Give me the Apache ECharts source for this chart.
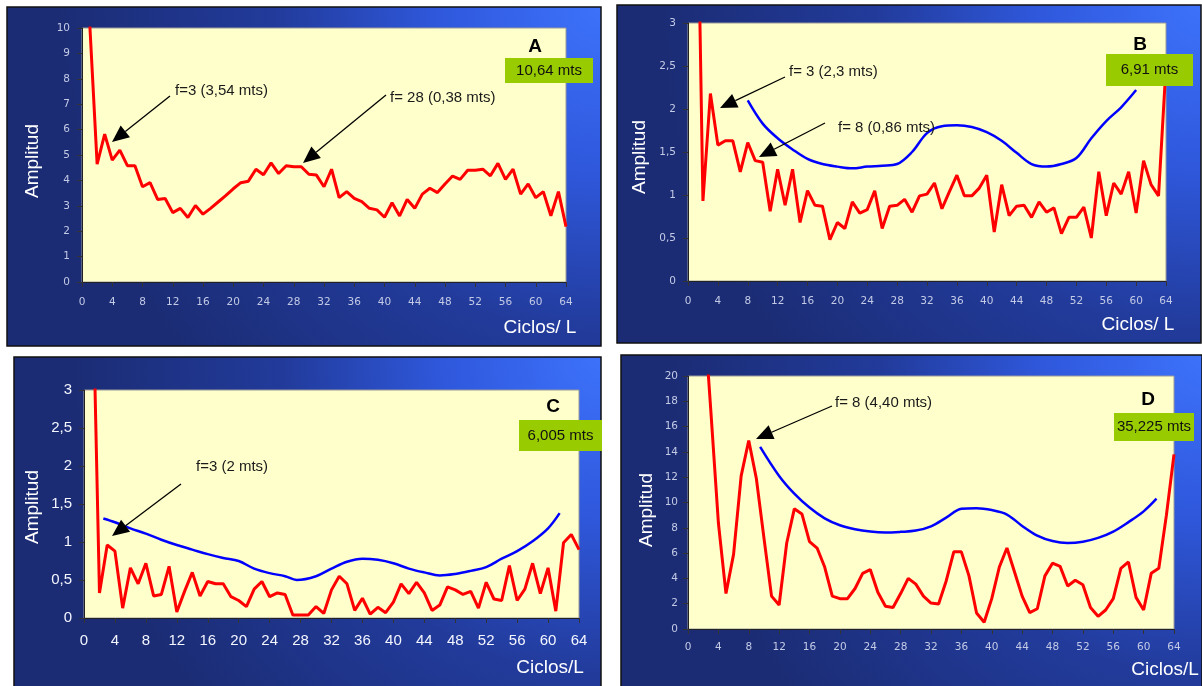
<!DOCTYPE html>
<html>
<head>
<meta charset="utf-8">
<script src="https://cdn.jsdelivr.net/npm/echarts/dist/echarts.min.js"></script>
<style>
html, body { margin: 0; padding: 0; background: #fff; }
#chart { width: 1202px; height: 686px; }
</style>
</head>
<body>
<div id="chart"></div>
<script>
// ciclos / L (eje x)
var ciclos = [1,2,3,4,5,6,7,8,9,10,11,12,13,14,15,16,17,18,19,20,21,22,23,24,25,26,27,28,29,30,31,32,
  33,34,35,36,37,38,39,40,41,42,43,44,45,46,47,48,49,50,51,52,53,54,55,56,57,58,59,60,61,62,63,64];

// espectros (rojo)
var redA = [10.3,4.64,5.82,4.80,5.19,4.58,4.58,3.75,3.91,3.25,3.29,2.73,2.90,2.54,3.01,2.67,
  2.90,3.15,3.40,3.67,3.91,3.97,4.44,4.22,4.69,4.27,4.58,4.54,4.54,4.24,4.21,3.75,
  4.44,3.32,3.56,3.29,3.16,2.90,2.84,2.55,3.12,2.60,3.25,2.90,3.46,3.69,3.52,3.86,
  4.17,4.04,4.40,4.40,4.44,4.18,4.67,4.04,4.44,3.46,3.86,3.32,3.56,2.61,3.56,2.18];
var redB = [6.1,0.93,2.18,1.58,1.63,1.63,1.27,1.61,1.40,1.38,0.81,1.30,0.88,1.30,0.68,1.05,
  0.88,0.87,0.48,0.68,0.61,0.92,0.79,0.83,1.05,0.61,0.87,0.88,0.95,0.80,0.99,1.01,
  1.14,0.84,1.04,1.23,0.99,0.99,1.08,1.23,0.57,1.12,0.76,0.87,0.88,0.74,0.92,0.80,
  0.85,0.55,0.74,0.74,0.86,0.50,1.27,0.76,1.14,1.01,1.27,0.79,1.40,1.12,0.99,2.5];
var redC = [5.0,0.33,0.96,0.88,0.13,0.66,0.45,0.72,0.29,0.31,0.68,0.08,0.35,0.60,0.29,0.48,
  0.45,0.45,0.28,0.23,0.15,0.38,0.48,0.28,0.33,0.31,0.04,0.04,0.04,0.15,0.06,0.37,
  0.55,0.45,0.10,0.26,0.05,0.14,0.07,0.21,0.45,0.32,0.47,0.33,0.10,0.17,0.41,0.37,
  0.31,0.35,0.13,0.47,0.25,0.23,0.69,0.23,0.38,0.72,0.32,0.66,0.09,0.99,1.10,0.90];
var redD = [35,26,17.3,8.4,2.8,5.9,12.1,14.9,11.9,7.2,2.6,1.9,6.8,9.5,9.1,6.9,
  6.4,4.9,2.6,2.4,2.4,3.2,4.4,4.7,2.9,1.8,1.7,2.8,4.0,3.55,2.6,2.05,
  1.97,3.8,6.1,6.1,4.2,1.26,0.53,2.4,4.9,6.4,4.5,2.6,1.3,1.6,4.2,5.2,
  4.95,3.4,3.85,3.5,1.7,1.0,1.5,2.4,4.8,5.3,2.5,1.5,4.4,4.8,9.0,13.8];

// curvas azules
var blueBx = [8,10,12,14,16,18,20,22,24,26,28,30,32,34,36,38,40,42,44,46,48,50,52,54,56,58,60];
var blueBy = [2.10,1.83,1.66,1.53,1.42,1.36,1.33,1.31,1.33,1.34,1.36,1.50,1.72,1.80,1.81,1.79,
  1.73,1.63,1.49,1.36,1.33,1.36,1.43,1.66,1.86,2.02,2.22];
var blueCx = [2.5,4,6,8,10,12,14,16,18,20,22,24,26,27.5,30,32,34,36,38,40,42,44,46,48,50,52,54,56,58,60,61.5];
var blueCy = [1.31,1.26,1.18,1.11,1.03,0.96,0.90,0.84,0.79,0.75,0.65,0.59,0.55,0.50,0.55,0.65,0.74,0.78,
  0.765,0.72,0.65,0.60,0.56,0.58,0.62,0.67,0.78,0.88,1.01,1.18,1.38];
var blueDx = [9.5,12,14,16,18,20,22,24,26,28,30,32,34,36,38,40,42,44,46,48,50,52,54,56,58,60,61.7];
var blueDy = [14.4,12.1,10.7,9.6,8.75,8.2,7.88,7.7,7.63,7.68,7.78,8.12,8.8,9.5,9.55,9.4,9.05,8.15,
  7.38,6.95,6.8,6.9,7.2,7.7,8.45,9.3,10.3];

var chart = echarts.init(document.getElementById('chart'));

function pares(xs, ys) {
  return xs.map(function (x, i) { return [x, ys[i]]; });
}

var panels = [
  { rect: [7, 7, 594, 339], grid: [82, 28, 484, 254], ymax: 10, yint: 1, big: false,
    red: redA, bx: null, by: null, xm: 15, ym: 12,
    letter: 'A', lpos: [535, 47], box: [505, 58, 88, 25], boxText: '10,64 mts',
    amp: [33, 161], cic: [540, 328], cicText: 'Ciclos/ L',
    notes: [
      { t: 'f=3 (3,54 mts)', x: 175, y: 91, a: [170, 96, 112, 142] },
      { t: 'f= 28 (0,38 mts)', x: 390, y: 98, a: [386, 95, 303, 163] }
    ] },
  { rect: [617, 5, 584, 338], grid: [688, 23, 478, 258], ymax: 3, yint: 0.5, big: false,
    red: redB, bx: blueBx, by: blueBy, xm: 15, ym: 12,
    letter: 'B', lpos: [1140, 45], box: [1106, 54, 87, 32], boxText: '6,91 mts',
    amp: [640, 157], cic: [1138, 325], cicText: 'Ciclos/ L',
    notes: [
      { t: 'f= 3 (2,3 mts)', x: 789, y: 72, a: [785, 77, 720, 108] },
      { t: 'f= 8 (0,86 mts)', x: 838, y: 128, a: [825, 123, 759, 157] }
    ] },
  { rect: [14, 357, 587, 330], grid: [84, 390, 495, 228], ymax: 3, yint: 0.5, big: true,
    red: redC, bx: blueCx, by: blueCy, xm: 15, ym: 12,
    letter: 'C', lpos: [553, 407], box: [519, 420, 83, 31], boxText: '6,005 mts',
    amp: [33, 507], cic: [550, 668], cicText: 'Ciclos/L',
    notes: [
      { t: 'f=3 (2 mts)', x: 196, y: 467, a: [181, 484, 112, 536] }
    ] },
  { rect: [621, 355, 581, 332], grid: [688, 376, 486, 253], ymax: 20, yint: 2, big: false,
    red: redD, bx: blueDx, by: blueDy, xm: 13, ym: 10,
    letter: 'D', lpos: [1148, 400], box: [1114, 413, 80, 28], boxText: '35,225 mts',
    amp: [647, 510], cic: [1165, 670], cicText: 'Ciclos/L',
    notes: [
      { t: 'f= 8 (4,40 mts)', x: 835, y: 403, a: [832, 406, 756, 439] }
    ] }
];

var grids = [], xAxes = [], yAxes = [], series = [], graphics = [];

function coma(v) { return String(v).replace('.', ','); }

function flecha(x1, y1, x2, y2) {
  var dx = x2 - x1, dy = y2 - y1, len = Math.sqrt(dx * dx + dy * dy);
  var ux = dx / len, uy = dy / len, hl = 17, hw = 7.5;
  var bx = x2 - ux * hl, by = y2 - uy * hl;
  return [
    { type: 'line', z: 60, shape: { x1: x1, y1: y1, x2: bx, y2: by },
      style: { stroke: '#000', lineWidth: 1.3 } },
    { type: 'polygon', z: 60,
      shape: { points: [[x2, y2], [bx - uy * hw, by + ux * hw], [bx + uy * hw, by - ux * hw]] },
      style: { fill: '#000' } }
  ];
}

panels.forEach(function (p, i) {
  var lab = p.big
    ? { fontSize: 15, color: '#f4f6ff', fontFamily: 'Liberation Sans' }
    : { fontSize: 10.5, color: '#c3cae6', fontFamily: 'DejaVu Sans' };

  grids.push({ left: p.grid[0], top: p.grid[1], width: p.grid[2], height: p.grid[3],
    show: true, backgroundColor: '#FFFFCC', borderColor: '#9a9a9a', borderWidth: 1 });

  xAxes.push({ type: 'value', gridIndex: i, min: 0, max: 64, interval: 4,
    axisLine: { show: true, onZero: false, lineStyle: { color: '#222', width: 1 } },
    axisTick: { show: true, length: 5, lineStyle: { color: '#333' } },
    axisLabel: Object.assign({ margin: p.xm }, lab),
    splitLine: { show: false } });

  yAxes.push({ type: 'value', gridIndex: i, min: 0, max: p.ymax, interval: p.yint,
    axisLine: { show: true, onZero: false, lineStyle: { color: '#222', width: 1 } },
    axisTick: { show: true, length: 5, lineStyle: { color: '#333' } },
    axisLabel: Object.assign({ margin: p.ym, formatter: coma }, lab),
    splitLine: { show: false } });

  series.push({ type: 'line', xAxisIndex: i, yAxisIndex: i, data: pares(ciclos, p.red),
    symbol: 'none', clip: true, z: 3,
    lineStyle: { color: '#FF0000', width: 3 } });

  if (p.bx) {
    series.push({ type: 'line', xAxisIndex: i, yAxisIndex: i, data: pares(p.bx, p.by),
      symbol: 'none', smooth: 0.35, clip: true, z: 4,
      lineStyle: { color: '#0000FF', width: 2.5 } });
  }

  // fondo del panel
  graphics.push({ type: 'rect', z: -10,
    shape: { x: p.rect[0], y: p.rect[1], width: p.rect[2], height: p.rect[3] },
    style: { stroke: '#111', lineWidth: 1.5,
      fill: { type: 'radial', x: 1, y: 0, r: 1.6, colorStops: [
        { offset: 0, color: '#3d72fb' }, { offset: 0.3, color: '#2f58dc' },
        { offset: 0.6, color: '#223b9b' }, { offset: 1, color: '#1b2c74' }] } } });

  graphics.push({ type: 'text', z: 50, x: p.amp[0], y: p.amp[1], rotation: Math.PI / 2,
    style: { text: 'Amplitud', fill: '#fff', font: '19px "Liberation Sans", Arial, sans-serif',
      align: 'center', verticalAlign: 'middle' } });
  graphics.push({ type: 'text', z: 50, x: p.cic[0], y: p.cic[1],
    style: { text: p.cicText, fill: '#fff', font: '19px "Liberation Sans", Arial, sans-serif',
      align: 'center', verticalAlign: 'middle' } });

  graphics.push({ type: 'text', z: 60, x: p.lpos[0], y: p.lpos[1],
    style: { text: p.letter, fill: '#000', font: 'bold 19px "Liberation Sans", Arial, sans-serif',
      align: 'center', verticalAlign: 'middle' } });
  graphics.push({ type: 'rect', z: 60,
    shape: { x: p.box[0], y: p.box[1], width: p.box[2], height: p.box[3] },
    style: { fill: '#99CC00' } });
  graphics.push({ type: 'text', z: 61, x: p.box[0] + p.box[2] / 2, y: p.box[1] + p.box[3] / 2,
    style: { text: p.boxText, fill: '#111', font: '15px "Liberation Sans", Arial, sans-serif',
      align: 'center', verticalAlign: 'middle' } });

  p.notes.forEach(function (n) {
    graphics.push({ type: 'text', z: 60, x: n.x, y: n.y,
      style: { text: n.t, fill: '#1a1a1a', font: '15px "Liberation Sans", Arial, sans-serif',
        align: 'left', verticalAlign: 'middle' } });
    flecha(n.a[0], n.a[1], n.a[2], n.a[3]).forEach(function (g) { graphics.push(g); });
  });
});

var option = {
  backgroundColor: '#ffffff',
  animation: false,
  grid: grids,
  xAxis: xAxes,
  yAxis: yAxes,
  series: series,
  graphic: { elements: graphics }
};
chart.setOption(option);
</script>
</body>
</html>
